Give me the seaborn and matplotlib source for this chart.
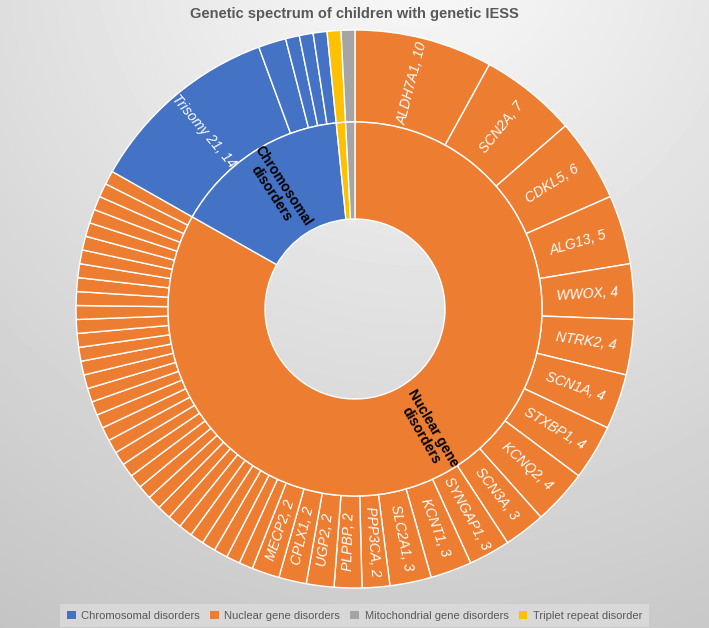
import matplotlib
matplotlib.use("Agg")
import matplotlib.pyplot as plt
import numpy as np
import seaborn as sns
from matplotlib.patches import Patch

sns.set_theme(style="white")
plt.rcParams['font.family'] = ['Liberation Sans', 'DejaVu Sans']

# inner ring groups (clockwise from 12 o'clock)
group_names = ['Nuclear gene disorders', 'Chromosomal disorders',
               'Triplet repeat disorder', 'Mitochondrial gene disorders']
group_labels = ['Nuclear gene\ndisorders', 'Chromosomal\ndisorders', '', '']

# outer ring
nuclear_genes = ['ALDH7A1', 'SCN2A', 'CDKL5', 'ALG13', 'WWOX', 'NTRK2', 'SCN1A',
                 'STXBP1', 'KCNQ2', 'SCN3A', 'SYNGAP1', 'KCNT1', 'SLC2A1',
                 'PPP3CA', 'PLPBP', 'UGP2', 'CPLX1', 'MECP2']
nuclear_counts = [10, 7, 6, 5, 4, 4, 4, 4, 4, 3, 3, 3, 3, 2, 2, 2, 2, 2]
nuclear_singles = 34   # unlabeled genes, one child each
chrom_names = ['Trisomy 21', '', '', '', '']
chrom_counts = [14, 2, 1, 1, 1]
triplet_counts = [1]
mito_counts = [1]

colors = {'Chromosomal disorders': '#4472C4', 'Nuclear gene disorders': '#ED7D31',
          'Mitochondrial gene disorders': '#A5A5A5', 'Triplet repeat disorder': '#FFC000'}

outer_names = nuclear_genes + [''] * nuclear_singles + chrom_names + [''] + ['']
outer_vals = nuclear_counts + [1] * nuclear_singles + chrom_counts + triplet_counts + mito_counts
outer_groups = (['Nuclear gene disorders'] * (len(nuclear_counts) + nuclear_singles)
                + ['Chromosomal disorders'] * len(chrom_counts)
                + ['Triplet repeat disorder'] + ['Mitochondrial gene disorders'])
inner_vals = [sum(nuclear_counts) + nuclear_singles, sum(chrom_counts),
              sum(triplet_counts), sum(mito_counts)]
total = sum(outer_vals)

W, H = 709, 628
fig = plt.figure(figsize=(W / 100, H / 100), dpi=100)

# background gradient
bg = fig.add_axes([0, 0, 1, 1])
yy, xx = np.mgrid[0:H, 0:W]
d = np.sqrt((xx - 420) ** 2 + (yy + 60) ** 2)
bg.imshow(0.98 - 0.21 * d / 800, cmap='gray', vmin=0, vmax=1, aspect='auto')
bg.axis('off')

ax = fig.add_axes([0, 0, 1, 1])
ax.patch.set_alpha(0)
cx, cy = 355, H - 309
R, r_mid, r_hole = 279, 187, 90

ax.pie(outer_vals, radius=R, center=(cx, cy), startangle=90, counterclock=False,
       colors=[colors[g] for g in outer_groups],
       wedgeprops=dict(width=R - r_mid, edgecolor='white', linewidth=1))
ax.pie(inner_vals, radius=r_mid, center=(cx, cy), startangle=90, counterclock=False,
       colors=[colors[g] for g in group_names],
       wedgeprops=dict(width=r_mid - r_hole, edgecolor='white', linewidth=1))


def radial_text(mid_units, radius, txt, **kw):
    cw = mid_units / total * 360
    th = 90 - cw
    rot = th if cw <= 180 else th + 180
    x = cx + radius * np.cos(np.radians(th))
    y = cy + radius * np.sin(np.radians(th))
    ax.text(x, y, txt, rotation=rot, rotation_mode='anchor', ha='center', va='center', **kw)


cum = 0
for name, v in zip(outer_names, outer_vals):
    if name:
        radial_text(cum + v / 2, (R + r_mid) / 2, f'{name}, {v}', color='white',
                    fontsize=10, fontstyle='italic')
    cum += v

cum = 0
for lab, v in zip(group_labels, inner_vals):
    if lab:
        radial_text(cum + v / 2, 142, lab, color='black', fontsize=10,
                    fontweight='bold', linespacing=1.0)
    cum += v

ax.set_xlim(0, W)
ax.set_ylim(0, H)
ax.set_aspect('equal')
ax.axis('off')

fig.text(0.5, 1 - 14 / H, 'Genetic spectrum of children with genetic IESS', ha='center',
         va='center', fontsize=10.5, fontweight='bold', color='#595959')

leg_order = ['Chromosomal disorders', 'Nuclear gene disorders',
             'Mitochondrial gene disorders', 'Triplet repeat disorder']
handles = [Patch(facecolor=colors[g], edgecolor='none') for g in leg_order]
leg = fig.legend(handles, leg_order, loc='lower center', ncol=4, bbox_to_anchor=(0.5, -0.008),
                 fontsize=8, frameon=True, fancybox=False, handlelength=0.8, handleheight=0.8,
                 handletextpad=0.5, columnspacing=0.9, borderpad=0.6, labelcolor='#595959')
leg.get_frame().set_facecolor('#DCDCDC')
leg.get_frame().set_edgecolor('none')

fig.savefig('out.png', dpi=100)
